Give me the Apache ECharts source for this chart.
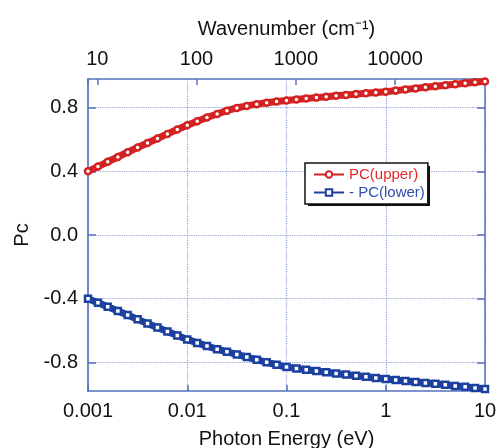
<!DOCTYPE html>
<html>
<head>
<meta charset="utf-8">
<script src="https://cdn.jsdelivr.net/npm/echarts@6/dist/echarts.min.js"></script>
<style>
  html, body { margin: 0; padding: 0; background: #fff; }
  #chart { width: 499px; height: 448px; }
</style>
</head>
<body>
<div id="chart"></div>
<script>
// photon energy (eV), 10 points per decade
var energy = [
  0.001, 0.00126, 0.00158, 0.002, 0.00251, 0.00316, 0.00398, 0.00501, 0.00631, 0.00794,
  0.01, 0.0126, 0.0158, 0.02, 0.0251, 0.0316, 0.0398, 0.0501, 0.0631, 0.0794,
  0.1, 0.126, 0.158, 0.2, 0.251, 0.316, 0.398, 0.501, 0.631, 0.794,
  1, 1.26, 1.58, 2, 2.51, 3.16, 3.98, 5.01, 6.31, 7.94,
  10
]

var pcUpper = [
  0.400, 0.430, 0.460, 0.490, 0.520, 0.550, 0.578, 0.606, 0.635, 0.663,
  0.690, 0.714, 0.738, 0.760, 0.781, 0.798, 0.811, 0.822, 0.831, 0.839,
  0.845, 0.851, 0.857, 0.863, 0.869, 0.875, 0.880, 0.885, 0.890, 0.895,
  0.900, 0.907, 0.914, 0.921, 0.928, 0.935, 0.941, 0.947, 0.953, 0.959,
  0.965
]

var pcLower = [
  -0.400, -0.425, -0.451, -0.477, -0.503, -0.530, -0.556, -0.581, -0.606, -0.631,
  -0.656, -0.678, -0.698, -0.717, -0.734, -0.750, -0.767, -0.783, -0.800, -0.815,
  -0.830, -0.838, -0.846, -0.854, -0.862, -0.870, -0.877, -0.884, -0.891, -0.898,
  -0.905, -0.911, -0.917, -0.923, -0.929, -0.935, -0.941, -0.948, -0.954, -0.961,
  -0.967
]

var yTicks = [-0.8, -0.4, 0, 0.4, 0.8]
var energyTicks = [0.001, 0.01, 0.1, 1, 10]
var waveTicks = [10, 100, 1000, 10000]

var EV_TO_CM = 8065.5
var font = 'Liberation Sans'
var axisBlue = '#5671bd'
var gridBlue = '#8ea2da'
var red = '#d42222'
var blue = '#1c40a0'

function pairs(xs, ys) {
  return xs.map(function (x, i) { return [x, ys[i]] })
}

function isPow10(v, list) {
  return list.some(function (t) { return Math.abs(v - t) / t < 1e-6 })
}

var chart = echarts.init(document.getElementById('chart'))

var option = {
  animation: false,
  textStyle: { fontFamily: font },
  grid: { left: 88, right: 14, top: 79, bottom: 57, show: false, outerBoundsMode: 'none', containLabel: false },
  // legend drop shadow
  graphic: [
    {
      type: 'rect',
      left: 308,
      top: 166,
      shape: { width: 122, height: 40 },
      style: { fill: '#111' },
      z: 90
    }
  ],
  legend: {
    left: 305,
    top: 163,
    orient: 'vertical',
    itemGap: 3,
    itemWidth: 30,
    itemHeight: 8,
    padding: [4, 3, 4, 8],
    backgroundColor: '#fff',
    borderColor: '#111',
    borderWidth: 1.5,
    borderRadius: 0,
    z: 100,
    textStyle: { fontSize: 15, fontFamily: font },
    data: [
      { name: 'PC(upper)', textStyle: { color: '#e02a2a' } },
      { name: '- PC(lower)', textStyle: { color: '#2f4fb0' } }
    ]
  },
  xAxis: [
    {
      type: 'log',
      min: 0.001,
      max: 10,
      position: 'bottom',
      name: 'Photon Energy (eV)',
      nameLocation: 'middle',
      nameGap: 38,
      nameTextStyle: { fontSize: 20, color: '#111', fontFamily: font },
      axisLine: { onZero: false, lineStyle: { color: axisBlue, width: 1.5 } },
      axisTick: { inside: true, length: 6, lineStyle: { color: axisBlue, width: 1.5 } },
      minorTick: { show: false },
      axisLabel: {
        fontSize: 20, color: '#111', margin: 10, fontFamily: font,
        formatter: function (v) { return isPow10(v, energyTicks) ? String(v) : '' }
      },
      splitLine: { show: true, lineStyle: { color: gridBlue, type: 'dotted', width: 1.2 } }
    },
    {
      type: 'log',
      min: 0.001 * EV_TO_CM,
      max: 10 * EV_TO_CM,
      position: 'top',
      name: 'Wavenumber (cm⁻¹)',
      nameLocation: 'middle',
      nameGap: 40,
      nameTextStyle: { fontSize: 20, color: '#111', fontFamily: font },
      axisLine: { onZero: false, lineStyle: { color: axisBlue, width: 1.5 } },
      axisTick: { inside: true, length: 6, lineStyle: { color: axisBlue, width: 1.5 } },
      axisLabel: {
        fontSize: 20, color: '#111', margin: 10, fontFamily: font,
        formatter: function (v) { return isPow10(v, waveTicks) ? String(Math.round(v)) : '' }
      },
      splitLine: { show: false }
    }
  ],
  yAxis: [
    {
      type: 'value',
      min: -0.98,
      max: 0.98,
      name: 'Pc',
      nameLocation: 'middle',
      nameGap: 56,
      nameTextStyle: { fontSize: 20, color: '#111', fontFamily: font },
      axisLine: { show: true, onZero: false, lineStyle: { color: '#6f88c8', width: 2 } },
      axisTick: { show: true, inside: true, length: 8, customValues: yTicks, lineStyle: { color: axisBlue, width: 1.5 } },
      axisLabel: {
        fontSize: 20, color: '#111', margin: 10, fontFamily: font,
        customValues: yTicks,
        formatter: function (v) { return v.toFixed(1) }
      },
      splitLine: { show: true, lineStyle: { color: gridBlue, type: 'dotted', width: 1.2 } }
    },
    {
      type: 'value',
      min: -0.98,
      max: 0.98,
      position: 'right',
      axisLine: { show: true, onZero: false, lineStyle: { color: axisBlue, width: 1.5 } },
      axisTick: { show: true, inside: true, length: 8, customValues: yTicks, lineStyle: { color: axisBlue, width: 1.5 } },
      axisLabel: { show: false, customValues: yTicks },
      splitLine: { show: false }
    }
  ],
  series: [
    {
      name: 'PC(upper)',
      type: 'line',
      xAxisIndex: 0,
      yAxisIndex: 0,
      data: pairs(energy, pcUpper),
      symbol: 'circle',
      symbolSize: 6,
      showAllSymbol: true,
      lineStyle: { color: red, width: 7 },
      itemStyle: { color: '#fff', borderColor: red, borderWidth: 2.5 },
      z: 3
    },
    {
      name: '- PC(lower)',
      type: 'line',
      xAxisIndex: 0,
      yAxisIndex: 0,
      data: pairs(energy, pcLower),
      symbol: 'rect',
      symbolSize: 6,
      showAllSymbol: true,
      lineStyle: { color: blue, width: 7 },
      itemStyle: { color: '#fff', borderColor: blue, borderWidth: 2.5 },
      z: 3
    }
  ]
}

chart.setOption(option)
</script>
</body>
</html>
